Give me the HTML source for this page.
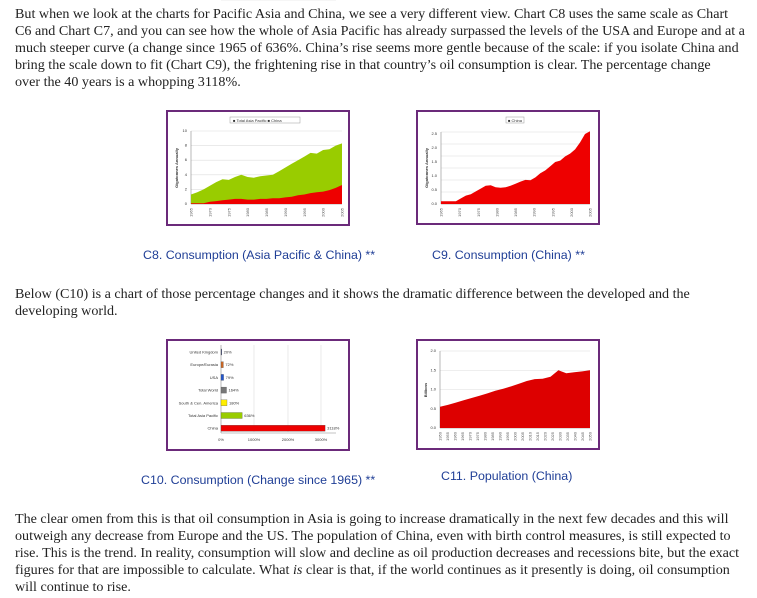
<!DOCTYPE html>
<html><head><meta charset="utf-8"><style>
html,body{margin:0;padding:0;background:#fff;width:757px;height:598px;overflow:hidden}
.t{position:absolute;left:15px;font-family:"Liberation Serif",serif;font-size:14.1px;line-height:17px;color:#222;white-space:nowrap}
.c{position:absolute;font-family:"Liberation Sans",sans-serif;font-size:12.4px;color:#1f3e96;white-space:nowrap}
svg{position:absolute;left:0;top:0}
</style></head><body>
<div class="t" style="top:6px">But when we look at the charts for Pacific Asia and China, we see a very different view. Chart C8 uses the same scale as Chart<br>C6 and Chart C7, and you can see how the whole of Asia Pacific has already surpassed the levels of the USA and Europe and at a<br>much steeper curve (a change since 1965 of 636%. China’s rise seems more gentle because of the scale: if you isolate China and<br>bring the scale down to fit (Chart C9), the frightening rise in that country’s oil consumption is clear. The percentage change<br>over the 40 years is a whopping 3118%.</div>
<div class="c" style="left:143px;top:248px">C8. Consumption (Asia Pacific &amp; China) **</div>
<div class="c" style="left:432px;top:248px">C9. Consumption (China) **</div>
<div class="t" style="top:286px">Below (C10) is a chart of those percentage changes and it shows the dramatic difference between the developed and the<br>developing world.</div>
<div class="c" style="left:141px;top:473px">C10. Consumption (Change since 1965) **</div>
<div class="c" style="left:441px;top:469px">C11. Population (China)</div>
<div class="t" style="top:511px">The clear omen from this is that oil consumption in Asia is going to increase dramatically in the next few decades and this will<br>outweigh any decrease from Europe and the US. The population of China, even with birth control measures, is still expected to<br>rise. This is the trend. In reality, consumption will slow and decline as oil production decreases and recessions bite, but the exact<br>figures for that are impossible to calculate. What <i>is</i> clear is that, if the world continues as it presently is doing, oil consumption<br>will continue to rise.</div>
<svg id="s" width="757" height="598" xmlns="http://www.w3.org/2000/svg" font-family="Liberation Sans, sans-serif">
<g fill="none" stroke="#6b2a7a" stroke-width="2">
<rect x="167" y="111" width="182" height="114"/>
<rect x="417" y="111" width="182" height="113"/>
<rect x="167" y="340" width="182" height="110"/>
<rect x="417" y="340" width="182" height="109"/>
</g>
<g id="g"></g>
</svg>
<script>
var g=document.getElementById('g'),h='';
function area(x0,x1,y0,sc,v,col){var n=v.length,d='M'+x0+' '+y0;for(var i=0;i<n;i++){d+=' L'+(x0+(x1-x0)*i/(n-1)).toFixed(1)+' '+(y0-v[i]*sc).toFixed(1);}d+=' L'+x1+' '+y0+' Z';return '<path d="'+d+'" fill="'+col+'"/>';}
function grid(x0,x1,y0,y1,n){var s='';for(var i=0;i<=n;i++){var y=y0+(y1-y0)*i/n;s+='<line x1="'+x0+'" x2="'+x1+'" y1="'+y+'" y2="'+y+'" stroke="#ddd" stroke-width="0.6"/>';}s+='<line x1="'+x0+'" x2="'+x0+'" y1="'+y0+'" y2="'+y1+'" stroke="#888" stroke-width="0.6"/><line x1="'+x0+'" x2="'+x1+'" y1="'+y1+'" y2="'+y1+'" stroke="#888" stroke-width="0.6"/>';return s;}
function xl(x0,x1,y,labels){var s='';var n=labels.length;for(var i=0;i<n;i++){var x=x0+(x1-x0)*i/(n-1);s+='<text transform="translate('+(x+1.5)+','+(y+2)+') rotate(-90)" font-size="4" text-anchor="end" fill="#555">'+labels[i]+'</text>';}return s;}
// C8
h+=grid(191,342,131,204,5);
h+=area(191,342,204,7.3,[1.3,1.6,2,2.5,3,3.4,3.3,3.7,4,3.7,3.6,3.8,3.9,4,4.5,5,5.5,6,6.5,7,6.9,7.4,7.5,8,8.3],'#99cc00');
h+=area(191,342,204,7.3,[0.1,0.1,0.1,0.3,0.4,0.5,0.6,0.7,0.7,0.6,0.6,0.7,0.7,0.8,0.8,0.9,1,1.2,1.3,1.5,1.6,1.7,1.9,2.2,2.6],'#ee0000');
h+=xl(191,342,206,['1965','1970','1975','1980','1985','1990','1995','2000','2005']);
h+='<rect x="230" y="117" width="70" height="6" fill="#fff" stroke="#999" stroke-width="0.5"/><text x="233" y="122" font-size="4" fill="#333">■ Total Asia Pacific  ■ China</text>';
['0','2','4','6','8','10'].forEach(function(t,i){h+='<text x="187" y="'+(205-i*14.6)+'" font-size="4" text-anchor="end" fill="#333">'+t+'</text>';});
h+='<text transform="translate(178,168) rotate(-90)" font-size="4" text-anchor="middle" fill="#333" font-weight="bold">Gigatonnes Annually</text>';
// C9
h+=grid(441,590,132,204,6);
h+=area(441,590,204,28,[0.1,0.1,0.1,0.1,0.2,0.3,0.35,0.45,0.55,0.65,0.67,0.6,0.58,0.6,0.65,0.72,0.8,0.86,0.85,0.95,1.1,1.2,1.35,1.5,1.55,1.7,1.8,1.95,2.2,2.5,2.6],'#ee0000');
h+=xl(441,590,206,['1965','1970','1975','1980','1985','1990','1995','2000','2005']);
h+='<rect x="506" y="117" width="18" height="6" fill="#fff" stroke="#999" stroke-width="0.5"/><text x="508" y="122" font-size="4" fill="#333">■ China</text>';
['0.0','0.5','1.0','1.5','2.0','2.5'].forEach(function(t,i){h+='<text x="437" y="'+(205-i*14)+'" font-size="4" text-anchor="end" fill="#333">'+t+'</text>';});
h+='<text transform="translate(428,168) rotate(-90)" font-size="4" text-anchor="middle" fill="#333" font-weight="bold">Gigatonnes Annually</text>';
// C11
h+=grid(440,590,351,428,4);
h+=area(440,590,428,38.5,[0.55,0.6,0.66,0.72,0.78,0.84,0.9,0.97,1.02,1.08,1.15,1.22,1.27,1.28,1.33,1.5,1.42,1.45,1.47,1.5],'#dd0000');
h+=xl(440,590,430,['1950','1955','1960','1965','1970','1975','1980','1985','1990','1995','2000','2005','2010','2015','2020','2025','2030','2035','2040','2045','2050']);
['0.0','0.5','1.0','1.5','2.0'].forEach(function(t,i){h+='<text x="436" y="'+(429-i*19.2)+'" font-size="4" text-anchor="end" fill="#333">'+t+'</text>';});
h+='<text transform="translate(427,390) rotate(-90)" font-size="4" text-anchor="middle" fill="#333" font-weight="bold">Billions</text>';
// C10
h+=grid(221,336,345,433,0);
[254,288,321].forEach(function(x){h+='<line x1="'+x+'" x2="'+x+'" y1="345" y2="433" stroke="#ddd" stroke-width="0.6"/>';});
var b=[['United Kingdom',20,'#1a2a6c'],['Europe/Eurasia',72,'#cc6622'],['USA',79,'#2255cc'],['Total World',164,'#777'],['South &amp; Cen. America',180,'#ffee00'],['Total Asia Pacific',636,'#99cc00'],['China',3118,'#ee0000']];
b.forEach(function(r,i){var y=352+i*12.7;h+='<rect x="221" y="'+(y-3)+'" width="'+(r[1]*0.0334).toFixed(1)+'" height="6" fill="'+r[2]+'" stroke="#555" stroke-width="0.3"/><text x="218" y="'+(y+1.5)+'" font-size="4" text-anchor="end" fill="#333">'+r[0]+'</text><text x="'+(223+r[1]*0.0334)+'" y="'+(y+1.5)+'" font-size="4" fill="#333">'+r[1]+'%</text>';});
['0%','1000%','2000%','3000%'].forEach(function(t,i){h+='<text x="'+[221,254,288,321][i]+'" y="441" font-size="4" text-anchor="middle" fill="#333">'+t+'</text>';});
g.innerHTML=h;
</script>
</body></html>
